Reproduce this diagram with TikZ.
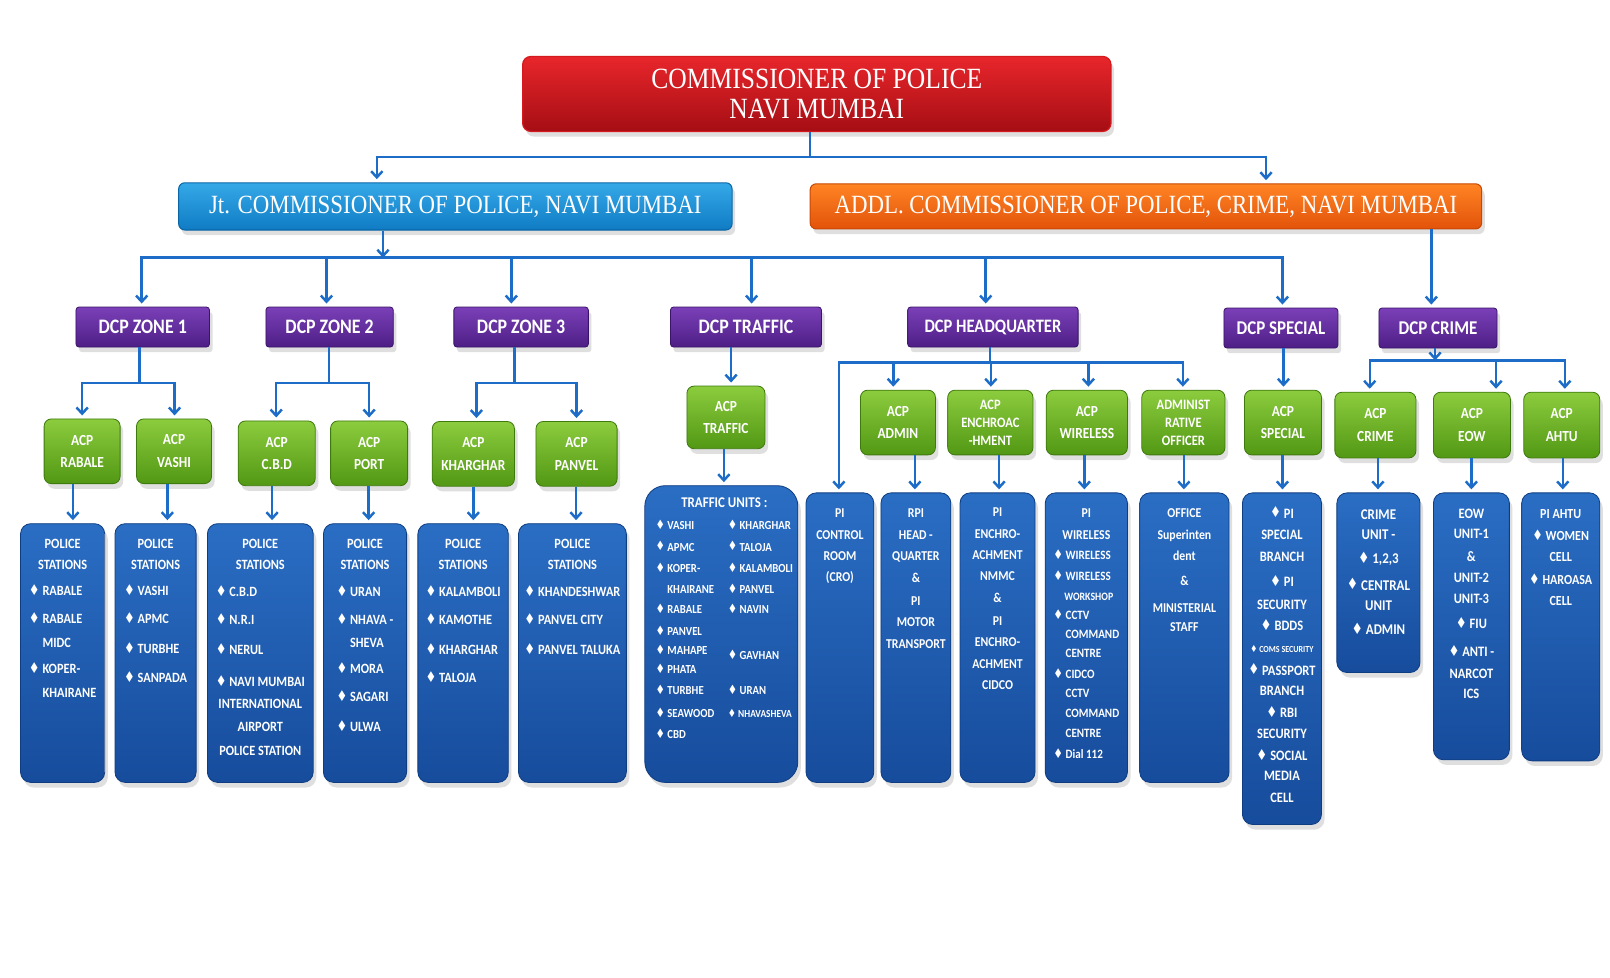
\documentclass[tikz,border=0pt]{standalone}
\usepackage{fontspec}
\usepackage{graphicx}
\setmainfont{Liberation Serif}
\newfontfamily\serifc[FakeStretch=0.87]{Liberation Serif}
\newfontfamily\carl[FakeStretch=0.87]{Carlito}
\newfontfamily\djv{DejaVu Sans}
\usetikzlibrary{arrows.meta,shadows}
\definecolor{lnblue}{HTML}{1C6CC8}
\definecolor{redtop}{HTML}{E8262B}
\definecolor{redbot}{HTML}{A50E14}
\definecolor{redline}{HTML}{D41A1F}
\definecolor{jttop}{HTML}{35A9E8}
\definecolor{jtbot}{HTML}{0F7BC4}
\definecolor{jtline}{HTML}{0A66A6}
\definecolor{ortop}{HTML}{FF8424}
\definecolor{orbot}{HTML}{E2530A}
\definecolor{orline}{HTML}{C84705}
\definecolor{putop}{HTML}{7B40B8}
\definecolor{pubot}{HTML}{4D1E85}
\definecolor{puline}{HTML}{3A1468}
\definecolor{grtop}{HTML}{8CCC3E}
\definecolor{grbot}{HTML}{529814}
\definecolor{grline}{HTML}{3E7A0E}
\definecolor{bltop}{HTML}{2A6EC4}
\definecolor{blbot}{HTML}{174C9C}
\definecolor{blline}{HTML}{0F3D82}
\newcommand\dm{\raisebox{0.02ex}{\scalebox{0.85}[1.05]{\djv\char"2666}}\ }
\newcommand\ind{\phantom{\dm}}
\newcommand\cc[1]{\multicolumn{1}{@{}c@{}}{#1}}
\tikzset{
 shd/.style={drop shadow={opacity=0.25,shadow xshift=3pt,shadow yshift=-5pt}},
 ln/.style={draw=lnblue,line width=2.4pt},
 arr/.style={ln,-{Straight Barb[length=6pt,width=11pt]},shorten >=3pt},
 arr0/.style={ln,-{Straight Barb[length=6pt,width=11pt]}},
 topbox/.style={shd,draw=redline,line width=1.2pt,top color=redtop,bottom color=redbot,rounded corners=8pt,text=white,align=center,inner sep=0pt,font=\serifc\fontsize{28.6}{29}\selectfont,minimum width=573pt,minimum height=73pt},
 jtbox/.style={shd,draw=jtline,line width=1pt,top color=jttop,bottom color=jtbot,rounded corners=6pt,text=white,inner sep=0pt,font=\serifc\fontsize{25.6}{28}\selectfont,minimum width=539pt,minimum height=46pt},
 addlbox/.style={shd,draw=orline,line width=1pt,top color=ortop,bottom color=orbot,rounded corners=6pt,text=white,inner sep=0pt,font=\serifc\fontsize{25.6}{28}\selectfont,minimum width=654pt,minimum height=44pt},
 dcp/.style={shd,draw=puline,line width=0.8pt,top color=putop,bottom color=pubot,rounded corners=3pt,text=white,inner sep=0pt,font=\carl\bfseries\fontsize{20}{24}\selectfont,minimum height=39pt},
 acp/.style={shd,draw=grline,line width=0.8pt,top color=grtop,bottom color=grbot,rounded corners=7pt,text=white,align=center,inner sep=0pt,font=\carl\bfseries\fontsize{15}{22}\selectfont,minimum height=63pt},
 acpsm/.style={acp,font=\carl\bfseries\fontsize{14}{17.5}\selectfont},
 ubox/.style={shd,draw=blline,line width=0.8pt,top color=bltop,bottom color=blbot,rounded corners=10pt,inner sep=0pt},
 utxt/.style={text=white,inner sep=0pt,anchor=base,font=\carl\bfseries\fontsize{13.8}{20}\selectfont},
}
\begin{document}
\begin{tikzpicture}[x=1pt,y=-1pt]
\fill[white] (0,0) rectangle (1568,952);
\useasboundingbox (0,0) rectangle (1568,952);

% ---------- top levels
\node[topbox] (cp) at (795.5,91.5) {COMMISSIONER OF POLICE\\NAVI MUMBAI};
\node[jtbox] (jt) at (443.5,201) {Jt. COMMISSIONER OF POLICE, NAVI MUMBAI};
\node[addlbox] (addl) at (1116,201) {ADDL. COMMISSIONER OF POLICE, CRIME, NAVI MUMBAI};

% ---------- DCPs
\node[dcp,minimum width=130pt] (d1) at (139,318.5) {DCP ZONE 1};
\node[dcp,minimum width=124pt] (d2) at (321,318.5) {DCP ZONE 2};
\node[dcp,minimum width=131pt] (d3) at (507.5,318.5) {DCP ZONE 3};
\node[dcp,minimum width=147pt] (dt) at (726.5,318.5) {DCP TRAFFIC};
\node[dcp,minimum width=166pt,font=\carl\bfseries\fontsize{18.5}{24}\selectfont] (dh) at (967,318.5) {DCP HEADQUARTER};
\node[dcp,minimum width=111pt,font=\carl\bfseries\fontsize{19}{24}\selectfont] (ds) at (1247.5,319.5) {DCP SPECIAL};
\node[dcp,minimum width=115pt,font=\carl\bfseries\fontsize{19}{24}\selectfont] (dc) at (1400.5,319.5) {DCP CRIME};

% ---------- ACPs
\node[acp,minimum width=74pt] (aR) at (80,439.5) {ACP\\RABALE};
\node[acp,minimum width=73pt] (aV) at (169.5,439.5) {ACP\\VASHI};
\node[acp,minimum width=75pt] (aC) at (269.5,441.5) {ACP\\C.B.D};
\node[acp,minimum width=75pt] (aP) at (359.5,441.5) {ACP\\PORT};
\node[acp,minimum width=80pt] (aK) at (461,442) {ACP\\KHARGHAR};
\node[acp,minimum width=79pt] (aPn) at (561.5,442) {ACP\\PANVEL};
\node[acp,minimum width=76pt,minimum height=61pt] (aT) at (707,406.5) {ACP\\TRAFFIC};
\node[acp,minimum width=73pt] (aAd) at (874.5,411.5) {ACP\\ADMIN};
\node[acpsm,minimum width=83pt] (aEn) at (964.5,411.5) {ACP\\ENCHROAC\\-HMENT};
\node[acp,minimum width=79pt] (aWi) at (1058.5,411.5) {ACP\\WIRELESS};
\node[acpsm,minimum width=81pt] (aAO) at (1152.5,411.5) {ADMINIST\\RATIVE\\OFFICER};
\node[acp,minimum width=75pt] (aSp) at (1249.5,411.5) {ACP\\SPECIAL};
\node[acp,minimum width=79pt,minimum height=64pt] (aCr) at (1339.5,414) {ACP\\CRIME};
\node[acp,minimum width=75pt,minimum height=64pt] (aEo) at (1433.5,414) {ACP\\EOW};
\node[acp,minimum width=74pt,minimum height=64pt] (aAh) at (1521,414) {ACP\\AHTU};

% ---------- blue boxes
\node[ubox,minimum width=82pt,minimum height=252pt] (bR) at (61,636) {};
\node[ubox,minimum width=79pt,minimum height=252pt] (bV) at (151.5,636) {};
\node[ubox,minimum width=103pt,minimum height=252pt] (bCbd) at (253.5,636) {};
\node[ubox,minimum width=81pt,minimum height=252pt] (bPo) at (355.5,636) {};
\node[ubox,minimum width=88pt,minimum height=252pt] (bK) at (451,636) {};
\node[ubox,minimum width=105pt,minimum height=252pt] (bPn) at (557.5,636) {};
\node[ubox,rounded corners=20pt,minimum width=149pt,minimum height=289pt] (bT) at (702.5,617.5) {};
\node[ubox,minimum width=66pt,minimum height=282pt] (bCtl) at (818,621) {};
\node[ubox,minimum width=68pt,minimum height=282pt] (bRpi) at (892,621) {};
\node[ubox,minimum width=73pt,minimum height=282pt] (bEn) at (971.5,621) {};
\node[ubox,minimum width=80pt,minimum height=282pt] (bWi) at (1058,621) {};
\node[ubox,minimum width=87pt,minimum height=282pt] (bOf) at (1153.5,621) {};
\node[ubox,minimum width=77pt,minimum height=323pt] (bSp) at (1248.5,641.5) {};
\node[ubox,minimum width=81pt,minimum height=175pt] (bCr) at (1342.5,567.5) {};
\node[ubox,minimum width=74pt,minimum height=260pt] (bEo) at (1433,610) {};
\node[ubox,minimum width=76pt,minimum height=261pt] (bAh) at (1520,610.5) {};

% ---------- blue box texts
\node[utxt] (tR) at (61,534.4) {\begin{tabular}[t]{@{}l@{}}\cc{POLICE}\\\cc{STATIONS}\\[6pt]\dm RABALE\\[7pt]\dm RABALE\\[3pt]\ind MIDC\\[6pt]\dm KOPER-\\[3pt]\ind KHAIRANE\end{tabular}};
\node[utxt] (tV) at (151.5,534.4) {\begin{tabular}[t]{@{}l@{}}\cc{POLICE}\\\cc{STATIONS}\\[6pt]\dm VASHI\\[7pt]\dm APMC\\[9pt]\dm TURBHE\\[8pt]\dm SANPADA\end{tabular}};
\node[utxt] (tCbd) at (253.5,534.4) {\begin{tabular}[t]{@{}l@{}}\cc{POLICE}\\\cc{STATIONS}\\[7pt]\dm C.B.D\\[7pt]\dm N.R.I\\[9pt]\dm NERUL\\[11pt]\dm NAVI MUMBAI\\[2pt]\cc{INTERNATIONAL}\\[2pt]\cc{AIRPORT}\\[3pt]\cc{POLICE STATION}\end{tabular}};
\node[utxt] (tPo) at (355.5,534.4) {\begin{tabular}[t]{@{}l@{}}\cc{POLICE}\\\cc{STATIONS}\\[7pt]\dm URAN\\[7pt]\dm NHAVA -\\[2pt]\ind SHEVA\\[6pt]\dm MORA\\[7pt]\dm SAGARI\\[9pt]\dm ULWA\end{tabular}};
\node[utxt] (tK) at (451,534.4) {\begin{tabular}[t]{@{}l@{}}\cc{POLICE}\\\cc{STATIONS}\\[7pt]\dm KALAMBOLI\\[7pt]\dm KAMOTHE\\[9pt]\dm KHARGHAR\\[7pt]\dm TALOJA\end{tabular}};
\node[utxt] (tPn) at (557.5,534.4) {\begin{tabular}[t]{@{}l@{}}\cc{POLICE}\\\cc{STATIONS}\\[7pt]\dm KHANDESHWAR\\[7pt]\dm PANVEL CITY\\[9pt]\dm PANVEL TALUKA\end{tabular}};

\node[utxt,font=\carl\bfseries\fontsize{12}{20}\selectfont] (tT) at (705.4,494.7) {\begin{tabular}[t]{@{}l@{\hspace{13pt}}l@{}}
\multicolumn{2}{@{}c@{}}{\fontsize{14.5}{20}\selectfont TRAFFIC UNITS :}\\[1pt]
\dm VASHI & \dm KHARGHAR\\[1pt]
\dm APMC & \dm TALOJA\\[1pt]
\dm KOPER- & \dm KALAMBOLI\\
\ind KHAIRANE & \dm PANVEL\\
\dm RABALE & \dm NAVIN\\[1pt]
\dm PANVEL & \\[-1pt]
\dm MAHAPE & \raisebox{-5pt}{\dm GAVHAN}\\[-2pt]
\dm PHATA & \\[1pt]
\dm TURBHE & \dm URAN\\[2pt]
\dm SEAWOOD & {\fontsize{10.5}{20}\selectfont\dm NHAVASHEVA}\\[1pt]
\dm CBD & \end{tabular}};

\node[utxt,font=\carl\bfseries\fontsize{13.2}{20.7}\selectfont] (tCtl) at (818,504.3) {\begin{tabular}[t]{@{}c@{}}PI\\CONTROL\\ROOM\\(CRO)\end{tabular}};
\node[utxt,font=\carl\bfseries\fontsize{13.2}{21}\selectfont] (tRpi) at (892,504.3) {\begin{tabular}[t]{@{}c@{}}RPI\\HEAD -\\QUARTER\\\&\\[1pt]PI\\MOTOR\\TRANSPORT\end{tabular}};
\node[utxt,font=\carl\bfseries\fontsize{13.2}{20.8}\selectfont] (tEn) at (971.5,503.3) {\begin{tabular}[t]{@{}c@{}}PI\\ENCHRO-\\ACHMENT\\NMMC\\\&\\[2pt]PI\\ENCHRO-\\ACHMENT\\CIDCO\end{tabular}};
\node[utxt,font=\carl\bfseries\fontsize{12.4}{19.4}\selectfont] (tWi) at (1058,504.3) {\begin{tabular}[t]{@{}l@{}}\cc{\fontsize{13.2}{19.4}\selectfont PI}\\[1.5pt]\cc{\fontsize{13.2}{19.4}\selectfont WIRELESS}\\\dm WIRELESS\\[1pt]\dm WIRELESS\\{\fontsize{11}{19}\selectfont\ind WORKSHOP}\\\dm CCTV\\[-1pt]\ind COMMAND\\[-1pt]\ind CENTRE\\[1pt]\dm CIDCO\\[-1pt]\ind CCTV\\\ind COMMAND\\\ind CENTRE\\[1pt]\dm Dial 112\end{tabular}};
\node[utxt,font=\carl\bfseries\fontsize{13.2}{21}\selectfont] (tOf) at (1153.5,504.3) {\begin{tabular}[t]{@{}c@{}}OFFICE\\Superinten\\dent\\[3pt]\&\\[5pt]MINISTERIAL\\[-2pt]STAFF\end{tabular}};
\node[utxt,font=\carl\bfseries\fontsize{14}{21}\selectfont] (tSp) at (1248.5,504.5) {\begin{tabular}[t]{@{}c@{}}\dm PI\\SPECIAL\\BRANCH\\[4pt]\dm PI\\[1pt]SECURITY\\\dm BDDS\\{\fontsize{9}{21}\selectfont\dm COMS SECURITY}\\[1pt]\dm PASSPORT\\[-1pt]BRANCH\\\dm RBI\\SECURITY\\\dm SOCIAL\\[-1pt]MEDIA\\CELL\end{tabular}};
\node[utxt,font=\carl\bfseries\fontsize{14.5}{21}\selectfont] (tCr) at (1342.5,505.7) {\begin{tabular}[t]{@{}c@{}}CRIME\\[-1pt]UNIT -\\[2pt]\dm 1,2,3\\[5pt]\dm CENTRAL\\[-1pt]UNIT\\[2pt]\dm ADMIN\end{tabular}};
\node[utxt,font=\carl\bfseries\fontsize{14}{20.5}\selectfont] (tEo) at (1433,504.5) {\begin{tabular}[t]{@{}c@{}}EOW\\[-0.5pt]UNIT-1\\[1.5pt]\&\\[0.5pt]UNIT-2\\[-0.5pt]UNIT-3\\[4.5pt]\dm FIU\\[6.5pt]\dm ANTI -\\[0.5pt]NARCOT\\[-0.5pt]ICS\end{tabular}};
\node[utxt,font=\carl\bfseries\fontsize{13.5}{21}\selectfont] (tAh) at (1520,505.3) {\begin{tabular}[t]{@{}c@{}}PI AHTU\\\dm WOMEN\\CELL\\[1pt]\dm HAROASA\\[-1pt]CELL\end{tabular}};

% ---------- connectors level 1
\coordinate (j1a) at (367,153);
\coordinate (j1b) at (1233,153);
\coordinate (j1c) at (789,153);
\draw[ln] (cp.south -| j1c) -- (j1c);
\draw[arr] (j1c) -- (j1a) -- (jt.north -| j1a);
\draw[arr] (j1c) -- (j1b) -- (addl.north -| j1b);

% ---------- connectors level 2
\coordinate (j2a) at (138,251);
\coordinate (j2b) at (1249,251);
\coordinate (j2c) at (373,251);
\draw[arr0] (jt.south -| j2c) -- (j2c);
\draw[arr] (j2c) -- (j2a) -- (d1.north -| j2a);
\draw[arr] (j2c) -- (j2b) -- (ds.north -| j2b);
\foreach \x/\n in {318/d2,498/d3,732/dt,960/dh}
  \draw[arr] (\x,251) -- (\n.north -| \x,0);
\draw[arr] (addl.south -| 1394,0) -- (dc.north -| 1394,0);

% ---------- connectors level 3
\draw[ln] (d1.south -| 136,0) -- (136,373);
\draw[arr] (136,373) -- (80,373) -- (aR.north -| 80,0);
\draw[arr] (136,373) -- (170,373) -- (aV.north -| 170,0);
\draw[ln] (d2.south -| 320.5,0) -- (320.5,373);
\draw[arr] (320.5,373) -- (269,373) -- (aC.north -| 269,0);
\draw[arr] (320.5,373) -- (359.5,373) -- (aP.north -| 359.5,0);
\draw[ln] (d3.south -| 501,0) -- (501,373);
\draw[arr] (501,373) -- (464,373) -- (aK.north -| 464,0);
\draw[arr] (501,373) -- (561.5,373) -- (aPn.north -| 561.5,0);
\draw[arr] (dt.south -| 712,0) -- (aT.north -| 712,0);
\draw[ln] (dh.south -| 964,0) -- (964,353);
\draw[arr] (964,353) -- (817,353) -- (bCtl.north -| 817,0);
\draw[arr] (964,353) -- (1152,353) -- (aAO.north -| 1152,0);
\foreach \x/\n in {870/aAd,965/aEn,1060/aWi}
  \draw[arr] (\x,353) -- (\n.north -| \x,0);
\draw[arr] (ds.south -| 1250,0) -- (aSp.north -| 1250,0);
\draw[arr0] (dc.south -| 1397.6,0) -- (1397.6,351);
\draw[arr] (1397.6,351) -- (1334,351) -- (aCr.north -| 1334,0);
\draw[arr] (1397.6,351) -- (1524,351) -- (aAh.north -| 1524,0);
\draw[arr] (1457,351) -- (aEo.north -| 1457,0);

% ---------- connectors level 4
\foreach \a/\b/\x in {aR/bR/71,aV/bV/163,aC/bCbd/265,aP/bPo/359,aK/bK/461,aPn/bPn/561,aT/bT/705,aAd/bRpi/891,aEn/bEn/973,aWi/bWi/1056,aAO/bOf/1153,aSp/bSp/1249,aCr/bCr/1342,aEo/bEo/1433,aAh/bAh/1522}
  \draw[arr] (\a.south -| \x,0) -- (\b.north -| \x,0);
\end{tikzpicture}
\end{document}
